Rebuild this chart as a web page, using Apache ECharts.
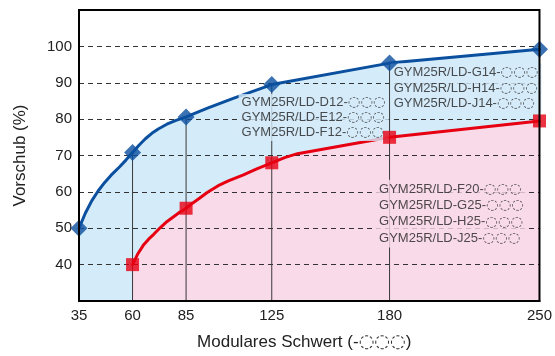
<!DOCTYPE html>
<html><head><meta charset="utf-8">
<script src="https://cdn.jsdelivr.net/npm/echarts@6/dist/echarts.min.js"></script>
<style>html,body{margin:0;padding:0;background:#fff}#c{width:555px;height:356px}</style>
</head><body><div id="c"></div>
<script>
// ---- data ----
const xTicks = [35, 60, 85, 125, 180, 250];
const yTicks = [40, 50, 60, 70, 80, 90, 100];
const blueMarkX = [35, 60, 85, 125, 180, 250];
const blueMarkY = [50, 70.8, 80.6, 89.5, 95.4, 99.2];
const blueCurveX = [35, 38, 41, 44, 47, 50, 54, 57, 60, 63, 66, 69, 72, 76, 80, 85, 95, 107, 125, 180, 250];
const blueCurveY = [50, 54.2, 57.6, 60.3, 62.6, 64.6, 66.9, 68.8, 70.8, 72.8, 74.6, 76.1, 77.3, 78.6, 79.6, 80.6, 83, 85.7, 89.5, 95.4, 99.2];
const redMarkX = [60, 85, 125, 180, 250];
const redMarkY = [40, 55.5, 68, 75, 79.5];
const redCurveX = [60, 62.5, 65, 67.5, 70, 73, 76, 79, 82, 85, 88, 91.4, 95, 100, 105, 111.5, 118, 125, 131, 137, 180, 250];
const redCurveY = [40, 43, 45.3, 47, 48.4, 50.2, 51.8, 53.1, 54.4, 55.5, 56.9, 58.3, 59.9, 61.7, 63.1, 64.6, 66.3, 68, 69.4, 70.5, 75, 79.5];
const labelsA = ['GYM25R/LD-D12-', 'GYM25R/LD-E12-', 'GYM25R/LD-F12-'];
const labelsB = ['GYM25R/LD-G14-', 'GYM25R/LD-H14-', 'GYM25R/LD-J14-'];
const labelsC = ['GYM25R/LD-F20-', 'GYM25R/LD-G25-', 'GYM25R/LD-H25-', 'GYM25R/LD-J25-'];
const placeholder = '◌◌◌';
const xNameParts = ['Modulares Schwert (-', '◌◌◌', ')'];
const yName = 'Vorschub (%)';
const yMin = 30, yMax = 110;

// ---- style ----
const BLUE = '#0b4f9f', BLUE_FILL = '#d4ebf9', RED = '#e60012', PINK_FILL = '#f9dae8', TXT = '#222';
const FONT = 'Liberation Sans, Arial, sans-serif';

const zip = (xs, ys) => xs.map((x, i) => [x, ys[i]]);

const verticals = blueMarkX.slice(1, 5).map((x, i) => ({
  type: 'line', z: 3, silent: true, symbol: 'none',
  data: [[x, blueMarkY[i + 1]], [x, yMin]],
  lineStyle: { color: '#3a3a3a', width: 1 }
}));

function labelSeries(lines, pos, bg, lh) {
  return {
    type: 'scatter', z: 6, symbolSize: 0, silent: true,
    data: [pos],
    label: {
      show: true, position: [0, 0], align: 'left', verticalAlign: 'top',
      formatter: lines.map(l => '{t|' + l + '}{c|' + placeholder + '}').join('\n'),
      backgroundColor: bg, padding: [1, 3, 1, 3], lineHeight: lh,
      rich: {
        t: { color: TXT, fontSize: 13, fontFamily: FONT, lineHeight: lh },
        c: { color: '#333', fontSize: 14.5, fontFamily: 'DejaVu Sans', lineHeight: lh }
      }
    }
  };
}

const option = {
  animation: false,
  grid: { left: 79, right: 15, top: 10, bottom: 50, show: true, borderColor: '#000', borderWidth: 2, backgroundColor: 'transparent', z: 8 },
  xAxis: {
    type: 'value', min: 35, max: 250, z: 2,
    name: '{t|' + xNameParts[0] + '}{c|' + xNameParts[1] + '}{t|' + xNameParts[2] + '}',
    nameLocation: 'middle', nameGap: 32,
    nameTextStyle: { padding: [0, 10, 0, 0], rich: {
      t: { fontSize: 17, color: TXT, fontFamily: FONT },
      c: { fontSize: 18, color: '#333', fontFamily: 'DejaVu Sans' } } },
    axisLine: { show: true, lineStyle: { color: '#000', width: 2 } },
    axisTick: { show: false },
    splitLine: { show: false },
    axisLabel: { customValues: xTicks, fontSize: 15, color: TXT, fontFamily: FONT, margin: 7 }
  },
  yAxis: {
    type: 'value', min: yMin, max: yMax, interval: 10, z: 2,
    name: yName, nameLocation: 'middle', nameGap: 50, nameRotate: 90,
    nameTextStyle: { fontSize: 17, color: TXT, fontFamily: FONT },
    axisLine: { show: true, lineStyle: { color: '#000', width: 2 } },
    axisTick: { show: false },
    splitLine: { show: true, lineStyle: { color: '#333', width: 1, type: [5, 4] } },
    axisLabel: { fontSize: 15, color: TXT, fontFamily: FONT, margin: 7,
      formatter: v => yTicks.includes(v) ? String(v) : '' }
  },
  series: [
    { type: 'line', z: 1, symbol: 'none', data: zip(blueCurveX, blueCurveY),
      lineStyle: { width: 0, opacity: 0 }, areaStyle: { color: BLUE_FILL, opacity: 1, origin: 'start' } },
    { type: 'line', z: 1, symbol: 'none', data: zip(redCurveX, redCurveY),
      lineStyle: { width: 0, opacity: 0 }, areaStyle: { color: PINK_FILL, opacity: 1, origin: 'start' } },
    ...verticals,
    { type: 'line', z: 4, symbol: 'none', data: zip(blueCurveX, blueCurveY),
      lineStyle: { color: BLUE, width: 3, join: 'round', cap: 'round' } },
    { type: 'line', z: 4, symbol: 'none', data: zip(redCurveX, redCurveY),
      lineStyle: { color: RED, width: 3, join: 'round', cap: 'round' } },
    { type: 'scatter', z: 7, symbol: 'diamond', symbolSize: 17, data: zip(blueMarkX, blueMarkY),
      itemStyle: { color: BLUE } },
    { type: 'scatter', z: 7, symbol: 'rect', symbolSize: 13, data: zip(redMarkX, redMarkY),
      itemStyle: { color: RED } },
    labelSeries(labelsA, [109.5, 86.9], BLUE_FILL, 15),
    labelSeries(labelsB, [180.5, 95.3], BLUE_FILL, 15.7),
    labelSeries(labelsC, [173.7, 63.3], PINK_FILL, 16.4)
  ]
};
const chart = echarts.init(document.getElementById('c'), null, { renderer: 'canvas' });
chart.setOption(option);
</script></body></html>
